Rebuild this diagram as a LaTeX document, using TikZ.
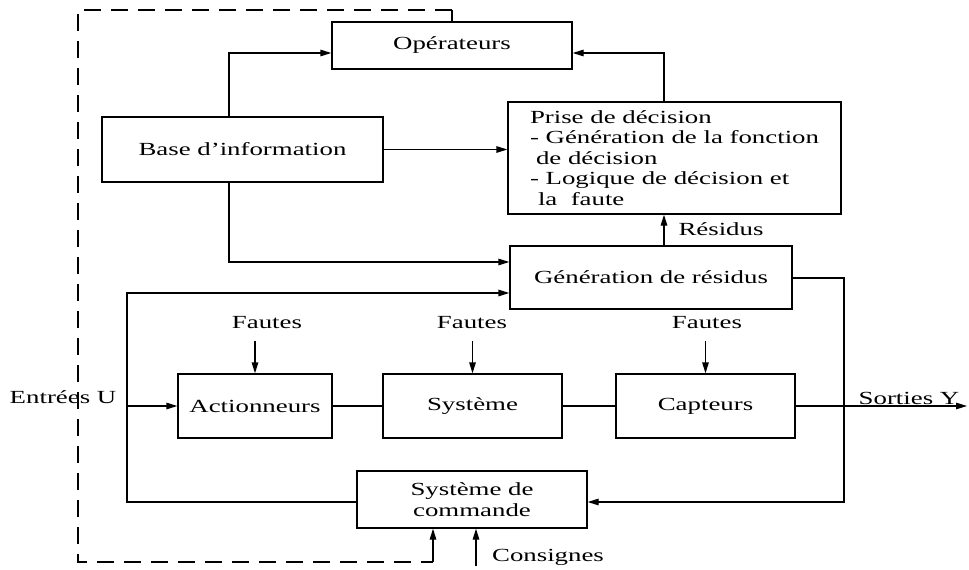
\documentclass[tikz,border=0pt]{standalone}
\usepackage{fontspec}
\setmainfont{Liberation Serif}[FakeStretch=1.45]
\usepackage{tikz}
\usetikzlibrary{
  arrows.meta,
  positioning,
  calc
}

\begin{document}
\begin{tikzpicture}[x=1pt, y=-1pt,
  bloc/.style={draw, line width=1.3pt, inner sep=0pt, font=\fontsize{18.5}{20.5}\selectfont},
  lbl/.style={inner sep=0pt, font=\fontsize{18.5}{20.5}\selectfont},
  fleche/.style={-{Triangle[length=11pt,width=6.5pt]}, line width=1.3pt},
  lien/.style={line width=1.3pt},
  pointille/.style={line width=1.3pt, dash pattern=on 17pt off 10pt}]
  \useasboundingbox (0,0) rectangle (969,570);
  \node[bloc, minimum width=240pt, minimum height=47pt] (oper) at (452,45.5) {Opérateurs};
  \node[bloc, minimum width=281pt, minimum height=65pt] (base) at (242.5,149.5) {Base d'information};
  \node[bloc, minimum width=333pt, minimum height=112pt, align=left] (prise) at (674.5,158) {Prise de décision\\- Génération de la fonction\\\hspace*{6pt}de décision\\- Logique de décision et\\\hspace*{8pt}la\ \ faute};
  \node[bloc, minimum width=282pt, minimum height=63pt] (gen) at (651,277.5) {Génération de résidus};
  \node[bloc, minimum width=154pt, minimum height=64pt] (act) at (255,406) {Actionneurs};
  \node[bloc, minimum width=179pt, minimum height=64pt] (sys) at (472.5,406) {Système};
  \node[bloc, minimum width=179pt, minimum height=64pt] (capt) at (705.5,406) {Capteurs};
  \node[bloc, minimum width=230pt, minimum height=57pt, align=center] (cmd) at (472,499.5) {Système de\\commande};
  % labels
  \node[lbl] (f1) at (267,323) {Fautes};
  \node[lbl] (f2) at (472,323) {Fautes};
  \node[lbl] (f3) at (707,323) {Fautes};
  \node[lbl] (entrees) at (63,397) {Entrées U};
  \node[lbl] (sorties) at (909,398) {Sorties Y};
  \node[lbl] (residus) at (721,229) {Résidus};
  \node[lbl] (consignes) at (548,557) {Consignes};
  % corners
  \coordinate (xb) at (229,53);
  \coordinate (xg) at (229,262);
  \coordinate (xp) at (664,53);
  \coordinate (xu) at (127,293);
  \coordinate (yc) at (844,502);
  \coordinate (yg) at (844,278);
  \coordinate (out) at (967,406);
  \coordinate (dtop) at (452,10);
  \coordinate (dbl) at (78,562);
  \coordinate (dbr) at (433,562);
  \coordinate (cons) at (476,566);
  % connectors
  \draw[fleche] (base.north -| xb) |- (oper.west |- xb);
  \draw[fleche] (base.east) -- (prise.west |- base.east);
  \draw[fleche] (base.south -| xg) |- (gen.west |- xg);
  \draw[fleche] (prise.north -| xp) |- (oper.east |- xp);
  \draw[fleche] (gen.north -| xp) -- (prise.south -| xp);
  \draw[fleche] (cmd.west |- yc) -| (xu) -- (gen.west |- xu);
  \draw[fleche] (act.west -| xu) -- (act.west);
  \draw[lien] (act.east) -- (sys.west);
  \draw[lien] (sys.east) -- (capt.west);
  \draw[fleche] (capt.east) -- (out);
  \draw[fleche] (gen.east |- yg) -| (yc) -- (cmd.east |- yc);
  \draw[fleche, shorten <=12pt] (f1.south -| act.north) -- (act.north);
  \draw[fleche, shorten <=12pt] (f2.south -| sys.north) -- (sys.north);
  \draw[fleche, shorten <=12pt] (f3.south -| capt.north) -- (capt.north);
  % operator loop
  \draw[lien] (oper.north) -- (dtop);
  \draw[pointille] (dtop) -| (dbl) -- (dbr);
  \draw[fleche] (dbr) -- (cmd.south -| dbr);
  \draw[fleche] (cons) -- (cmd.south -| cons);
\end{tikzpicture}
\end{document}
